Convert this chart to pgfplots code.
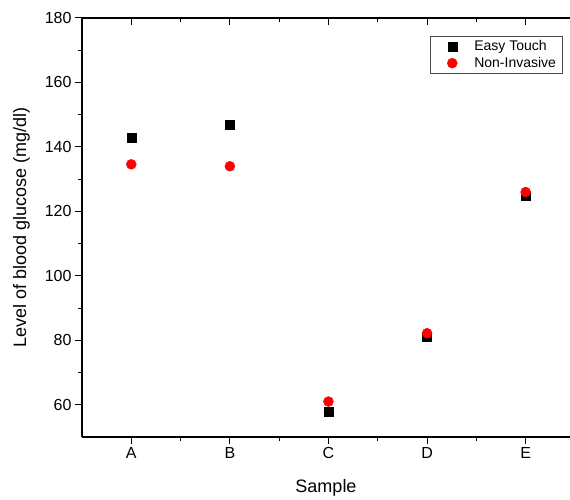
\documentclass[border=0pt]{standalone}
\usepackage{fontspec}
\setmainfont{Liberation Sans}
\usepackage{pgfplots}
\pgfplotsset{compat=1.18}

\begin{document}
\begin{tikzpicture}
\begin{axis}[%
scale only axis,
width=488pt, height=419pt,
xmin=0.5, xmax=5.45,
ymin=50, ymax=180,
axis x line*=bottom,
axis y line*=left,
axis line style={line width=1.2pt},
tick align=outside,
tick style={black, line width=1pt},
major tick length=7pt,
minor tick length=4pt,
xtick={1,2,3,4,5},
xticklabels={A,B,C,D,E},
minor x tick num=1,
ytick={60,80,100,120,140,160,180},
minor y tick num=1,
xlabel={Sample},
ylabel={Level of blood glucose (mg/dl)},
xlabel style={font=\fontsize{18}{20}\selectfont, yshift=-14pt},
ylabel style={font=\fontsize{18}{20}\selectfont, yshift=8pt},
ticklabel style={font=\fontsize{16}{18}\selectfont},
/pgf/number format/assume math mode=true,
legend style={at={(0.984,0.957)}, anchor=north east,
  font=\fontsize{14}{16}\selectfont, draw=black!70, thin,
  inner xsep=3pt, inner ysep=2pt, row sep=0pt,
  nodes={inner xsep=3pt, inner ysep=2.5pt}},
legend image code/.code={%
  \path[draw=none] (0pt,0pt) -- (38pt,0pt);
  \draw[only marks,#1] plot coordinates {(19pt,0pt)};},
legend cell align=left,
]
\coordinate (sw) at (rel axis cs:0,0);
\coordinate (ne) at (rel axis cs:1,1);
\addplot [only marks, mark=square*, mark size=4.5pt, color=black]
coordinates {(1,143)(2,147)(3,58)(4,81)(5,125)};
\addlegendentry{Easy Touch};
\addplot [only marks, mark=*, mark size=5pt, color=red]
coordinates {(1,134.6)(2,134)(3,61)(4,82.2)(5,126)};
\addlegendentry{Non-Invasive};
\end{axis}
\begin{axis}[%
scale only axis,
width=488pt, height=419pt,
xmin=0.5, xmax=5.45,
ymin=50, ymax=180,
axis x line*=top,
axis line style={line width=1.2pt},
hide y axis,
tick align=inside,
tick style={black, line width=1pt},
major tick length=7pt,
minor tick length=4pt,
xtick={1,2,3,4,5},
xticklabels={},
minor x tick num=1,
]
\end{axis}
\pgfresetboundingbox
\path[use as bounding box] ([shift={(-82pt,-63pt)}]sw) rectangle ([shift={(0pt,18pt)}]ne);
\end{tikzpicture}
\end{document}
